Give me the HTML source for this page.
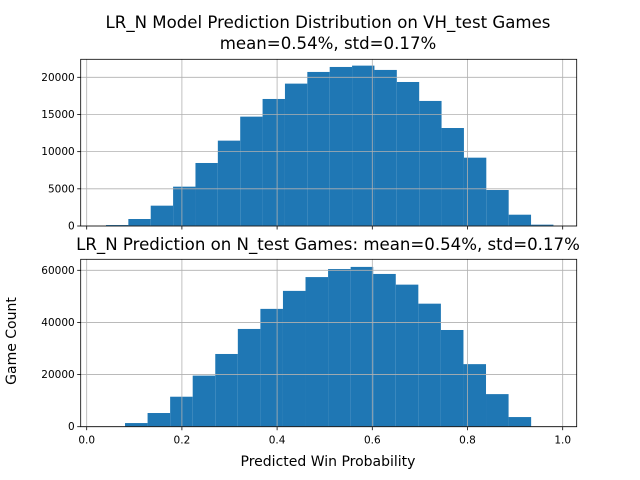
<!DOCTYPE html>
<html><head><meta charset="utf-8"><style>
body{margin:0;background:#fff;}
svg{display:block;font-family:"DejaVu Sans","Liberation Sans",sans-serif;}
</style></head><body>
<svg id="fig" width="640" height="480" viewBox="0 0 640 480"></svg>
<script>
const topStart = 0.0405, topWidth = 0.047;
const topCounts = [130,940,2735,5290,8475,11480,14710,17085,19150,20720,21390,21570,20990,19370,16820,13180,9190,4840,1520,180];
const topTicks = [0,5000,10000,15000,20000];
const botStart = 0.0805, botWidth = 0.0474;
const botCounts = [1400,5250,11500,19600,27900,37500,45200,52100,57400,60500,61300,58600,54500,47200,37100,24000,12500,3700];
const botTicks = [0,20000,40000,60000];
const xTicks = [0.0,0.2,0.4,0.6,0.8,1.0];
const xTickLabels = ["0.0","0.2","0.4","0.6","0.8","1.0"];

const NS="http://www.w3.org/2000/svg";
const svg=document.getElementById('fig');
function el(tag,attrs,parent){const e=document.createElementNS(NS,tag);for(const k in attrs)e.setAttribute(k,attrs[k]);(parent||svg).appendChild(e);return e;}
const X0=80.7,X1=576.7;
const xs=v=>86.7+v*476;

function panel(name,yTop,yBot,yMax,start,width,counts,ticks,showXLabels){
  const g=el('g',{});
  
  
  const ys=v=>yBot-(v/yMax)*(yBot-yTop);
  counts.forEach((c,i)=>{
    const x=xs(start+i*width), x2=xs(start+(i+1)*width);
    const r=el('rect',{x:x,y:ys(c),width:x2-x,height:yBot-ys(c),fill:'#1f77b4'},g);
    
    
  });
  xTicks.forEach((t,i)=>{
    const gl=el('line',{x1:xs(t),x2:xs(t),y1:yTop,y2:yBot,stroke:'#b0b0b0','stroke-width':0.8},g);
    
    
    el('line',{x1:xs(t),x2:xs(t),y1:yBot,y2:yBot+3.5,stroke:'#000','stroke-width':0.8},g);
    if(showXLabels){
      const tx=el('text',{x:xs(t),y:yBot+17,'text-anchor':'middle','font-size':10.5},g);
      tx.textContent=xTickLabels[i];
      
      
    }
  });
  ticks.forEach(t=>{
    const gl=el('line',{x1:X0,x2:X1,y1:ys(t),y2:ys(t),stroke:'#b0b0b0','stroke-width':0.8},g);
    
    
    el('line',{x1:X0-3.5,x2:X0,y1:ys(t),y2:ys(t),stroke:'#000','stroke-width':0.8},g);
    const tx=el('text',{x:X0-6,y:ys(t)+3.5,'text-anchor':'end','font-size':10.5},g);
    tx.textContent=String(t);
    
    
  });
  el('rect',{x:X0,y:yTop,width:X1-X0,height:yBot-yTop,fill:'none',stroke:'#000','stroke-width':0.8},g);
  return g;
}
const topYMax = 20000*(226-59.3)/(226-77.3);
panel('top-histogram',59.3,226,topYMax,topStart,topWidth,topCounts,topTicks,false);
const botYMax = 60000*(426.7-259.3)/(426.7-270.3);
panel('bottom-histogram',259.3,426.7,botYMax,botStart,botWidth,botCounts,botTicks,true);
</script>
<div style="position:absolute;left:0;top:0;width:640px;height:480px;pointer-events:none;font-family:'DejaVu Sans','Liberation Sans',sans-serif;">
<div style="position:absolute;left:0;width:656px;top:12px;text-align:center;font-size:16.6px;line-height:21px;white-space:nowrap;">LR_N Model Prediction Distribution on VH_test Games<br>mean=0.54%, std=0.17%</div>
<div style="position:absolute;left:0;width:656px;top:234px;text-align:center;font-size:16.6px;line-height:21px;white-space:nowrap;">LR_N Prediction on N_test Games: mean=0.54%, std=0.17%</div>
<div style="position:absolute;left:0;width:656px;top:454px;text-align:center;font-size:14px;">Predicted Win Probability</div>
<div style="position:absolute;left:-38px;top:333px;width:100px;text-align:center;font-size:14px;transform:rotate(-90deg);white-space:nowrap;">Game Count</div>
</div>
</body></html>
